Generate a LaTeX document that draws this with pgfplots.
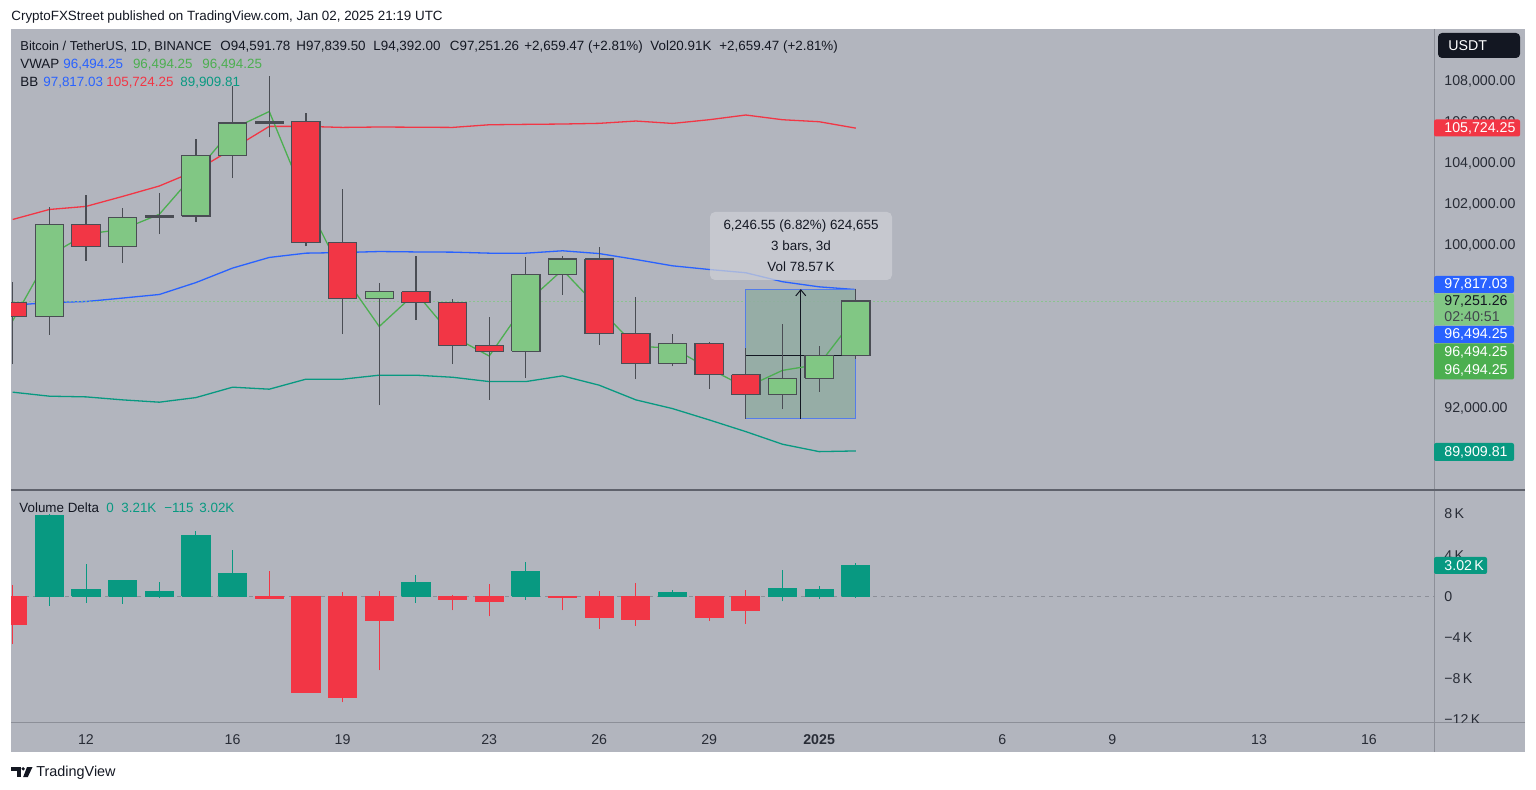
\documentclass[border=0pt]{standalone}
\usepackage{pgfplots}
\pgfplotsset{compat=1.18}
\usepackage{pgfplotstable}
\usepgfplotslibrary{fillbetween}
\usetikzlibrary{arrows.meta}
\usepackage{fontspec}
\setmainfont{Liberation Sans}

\definecolor{bg}{RGB}{178,181,190}
\definecolor{tvtext}{RGB}{19,23,34}
\definecolor{ticktext}{RGB}{40,44,54}
\definecolor{cgreen}{RGB}{129,199,132}
\definecolor{cred}{RGB}{242,54,69}
\definecolor{cborder}{RGB}{74,77,84}
\definecolor{bbblue}{RGB}{41,98,255}
\definecolor{bbred}{RGB}{242,54,69}
\definecolor{bbteal}{RGB}{8,153,129}
\definecolor{vwapgreen}{RGB}{76,175,80}
\definecolor{vdgreen}{RGB}{8,153,129}
\definecolor{vdred}{RGB}{242,54,69}
\definecolor{sep}{RGB}{140,143,152}
\definecolor{sepdark}{RGB}{95,98,108}
\definecolor{tipfill}{RGB}{205,207,213}
\definecolor{boxfill}{RGB}{146,172,162}
\definecolor{boxedge}{RGB}{84,124,232}

\newcommand{\fl}{\fontsize{6.7}{8}\selectfont}
\newcommand{\fsc}{\fontsize{7.1}{8}\selectfont}

% price candles (thousand USDT): #1 = x-1, #2 = x, #3 O, #4 H, #5 L, #6 C ; body half width 0.385 day
\newcommand{\gc}[6]{%
  \addplot[cborder, line width=0.6pt] coordinates {(#2,#5) (#2,#4)};
  \addplot[fill=cgreen, draw=cborder, line width=0.6pt] coordinates {(#1.615,#3) (#2.385,#3) (#2.385,#6) (#1.615,#6) (#1.615,#3)};}
\newcommand{\rc}[6]{%
  \addplot[cborder, line width=0.6pt] coordinates {(#2,#5) (#2,#4)};
  \addplot[fill=cred, draw=cborder, line width=0.6pt] coordinates {(#1.615,#3) (#2.385,#3) (#2.385,#6) (#1.615,#6) (#1.615,#3)};}
% volume delta candles (K): #1 = x-1, #2 = x, #3 close, #4 high, #5 low, #6 colour (open = 0)
\newcommand{\vb}[6]{%
  \addplot[#6, line width=0.5pt] coordinates {(#2,#5) (#2,#4)};
  \addplot[fill=#6, draw=#6, line width=0.5pt] coordinates {(#1.615,0) (#2.385,0) (#2.385,#3) (#1.615,#3) (#1.615,0)};}

% Bollinger bands and VWAP, thousand USDT
\pgfplotstableread{
d upper basis lower vwap
10 101.250 97.050 92.790 96.287
11 101.740 97.180 92.593 99.487
12 101.890 97.230 92.559 100.530
13 102.380 97.400 92.412 100.770
14 102.890 97.575 92.299 101.503
15 103.640 98.160 92.525 103.563
16 104.720 98.870 93.034 105.687
17 105.810 99.390 92.936 106.540
18 105.810 99.600 93.426 102.163
19 105.760 99.630 93.426 98.570
20 105.780 99.680 93.622 96.007
21 105.770 99.660 93.622 97.660
22 105.760 99.650 93.520 95.527
23 105.890 99.600 93.309 94.560
24 105.910 99.600 93.309 97.147
25 105.926 99.716 93.588 98.780
26 105.960 99.580 93.132 96.890
27 106.073 99.290 92.412 95.033
28 105.956 98.980 91.985 94.957
29 106.137 98.800 91.431 93.947
30 106.368 98.640 90.857 93.023
31 106.137 98.200 90.239 93.857
32 106.039 97.950 89.877 94.150
33 105.72425 97.81703 89.90981 96.49425
}\bbtab

\begin{document}
\begin{tikzpicture}
\fill[white] (0,0) rectangle (768pt,-395pt);
\begin{scope}[x=0.5pt,y=-0.5pt]
  \fill[bg] (11,29) rectangle (1525,752);
  \node[anchor=base west, inner sep=0, font=\fl, text=tvtext] at (11,21) {CryptoFXStreet published on TradingView.com, Jan 02, 2025 21:19 UTC};
\end{scope}

% ---------------- price pane ----------------
\begin{axis}[
  at={(5.5pt,-14.5pt)}, anchor=north west,
  scale only axis, width=711.5pt, height=230.5pt,
  xmin=9.954, xmax=48.774, ymin=87.997, ymax=110.582,
  axis line style={draw=none}, major tick length=0pt,
  xtick=\empty,
  ytick={92,100,102,104,106,108},
  yticklabels={{92,000.00},{100,000.00},{102,000.00},{104,000.00},{106,000.00},{108,000.00}},
  yticklabel pos=right,
  yticklabel style={anchor=west, inner sep=0pt, xshift=5pt, font=\fsc, text=ticktext},
  clip=true,
]
\addplot[draw=none, name path=up] table[x=d, y=upper] {\bbtab};
\addplot[draw=none, name path=lo] table[x=d, y=lower] {\bbtab};
\addplot[fill=bbblue, fill opacity=0.06, draw=none] fill between[of=up and lo];
\addplot[bbred, line width=0.65pt] table[x=d, y=upper] {\bbtab};
\addplot[bbblue, line width=0.65pt] table[x=d, y=basis] {\bbtab};
\addplot[bbteal, line width=0.65pt] table[x=d, y=lower] {\bbtab};
% last price line
\addplot[cgreen, line width=0.4pt, dash pattern=on 1pt off 1pt, opacity=0.8] coordinates {(9.9,97.25126) (48.8,97.25126)};
% measurement box
\addplot[fill=boxfill, draw=boxedge, line width=0.5pt, fill opacity=0.85] coordinates {(30,91.48) (33,91.48) (33,97.8395) (30,97.8395) (30,91.48)};
\addplot[tvtext, line width=0.5pt] coordinates {(30,94.592) (33,94.592)};
\addplot[tvtext, line width=0.5pt, -{Straight Barb[length=3pt,width=5pt]}] coordinates {(31.5,91.48) (31.5,97.8395)};
% VWAP
\addplot[vwapgreen, line width=0.65pt] table[x=d, y=vwap] {\bbtab};
% candles: x-1, x, O, H, L, C
\rc{9}{10}{97.18}{98.20}{94.16}{96.50}
\gc{10}{11}{96.50}{101.84}{95.60}{101.02}
\rc{11}{12}{101.02}{102.45}{99.23}{99.91}
\gc{12}{13}{99.91}{101.82}{99.14}{101.35}
\gc{13}{14}{101.35}{102.56}{100.53}{101.42}
\gc{14}{15}{101.42}{105.17}{101.15}{104.37}
\gc{15}{16}{104.37}{107.80}{103.28}{105.98}
\gc{16}{17}{105.98}{108.30}{105.27}{106.05}
\rc{17}{18}{106.05}{106.45}{99.93}{100.11}
\rc{18}{19}{100.11}{102.72}{95.63}{97.36}
\gc{19}{20}{97.36}{98.16}{92.15}{97.71}
\rc{20}{21}{97.71}{99.46}{96.32}{97.20}
\rc{21}{22}{97.20}{97.35}{94.16}{95.07}
\rc{22}{23}{95.07}{96.45}{92.43}{94.80}
\gc{23}{24}{94.80}{99.39}{93.48}{98.57}
\gc{24}{25}{98.57}{99.47}{97.56}{99.31}
\rc{25}{26}{99.31}{99.88}{95.11}{95.68}
\rc{26}{27}{95.68}{97.46}{93.43}{94.21}
\gc{27}{28}{94.21}{95.63}{94.05}{95.19}
\rc{28}{29}{95.19}{95.26}{92.94}{93.64}
\rc{29}{30}{93.64}{94.95}{91.48}{92.69}
\gc{30}{31}{92.69}{96.15}{91.96}{93.46}
\gc{31}{32}{93.46}{95.06}{92.80}{94.59}
\gc{32}{33}{94.59178}{97.8395}{94.392}{97.25126}
\end{axis}

% ---------------- volume delta pane (K) ----------------
\begin{axis}[
  at={(5.5pt,-245.5pt)}, anchor=north west,
  scale only axis, width=711.5pt, height=115.5pt,
  xmin=9.954, xmax=48.774, ymin=-12.194, ymax=10.233,
  axis line style={draw=none}, major tick length=0pt,
  xtick={12,16,19,23,26,29,32,37,40,44,47},
  xticklabels={12,16,19,23,26,29,\textbf{2025},6,9,13,16},
  xticklabel style={anchor=base, inner sep=0pt, yshift=-11pt, font=\fsc, text=ticktext},
  ytick={-8,-4,0,4,8},
  yticklabels={{−8\,K},{−4\,K},{0},{4\,K},{8\,K}},
  yticklabel pos=right,
  yticklabel style={anchor=west, inner sep=0pt, xshift=5pt, font=\fsc, text=ticktext},
  clip=true,
]
\addplot[sep, line width=0.4pt, dash pattern=on 2pt off 2pt] coordinates {(9.9,0) (48.8,0)};
% x-1, x, close, high, low, colour
\vb{9}{10}{-2.70}{1.14}{-4.63}{vdred}
\vb{10}{11}{7.90}{8.00}{-0.90}{vdgreen}
\vb{11}{12}{0.65}{3.15}{-0.64}{vdgreen}
\vb{12}{13}{1.54}{1.54}{-0.70}{vdgreen}
\vb{13}{14}{0.51}{1.38}{-0.13}{vdgreen}
\vb{14}{15}{5.91}{6.33}{0}{vdgreen}
\vb{15}{16}{2.22}{4.53}{0}{vdgreen}
\vb{16}{17}{-0.16}{2.44}{-0.16}{vdred}
\vb{17}{18}{-9.29}{0}{-9.29}{vdred}
\vb{18}{19}{-9.86}{0.45}{-10.28}{vdred}
\vb{19}{20}{-2.35}{0.51}{-7.17}{vdred}
\vb{20}{21}{1.38}{2.12}{-0.64}{vdgreen}
\vb{21}{22}{-0.32}{0.10}{-1.35}{vdred}
\vb{22}{23}{-0.54}{1.22}{-1.93}{vdred}
\vb{23}{24}{2.45}{3.31}{-0.32}{vdgreen}
\vb{24}{25}{-0.06}{0.08}{-1.35}{vdred}
\vb{25}{26}{-2.03}{0.51}{-3.12}{vdred}
\vb{26}{27}{-2.22}{1.32}{-2.86}{vdred}
\vb{27}{28}{0.39}{0.58}{0}{vdgreen}
\vb{28}{29}{-2.03}{0.08}{-2.41}{vdred}
\vb{29}{30}{-1.35}{0.61}{-2.64}{vdred}
\vb{30}{31}{0.74}{2.54}{-0.48}{vdgreen}
\vb{31}{32}{0.65}{0.99}{-0.22}{vdgreen}
\vb{32}{33}{3.02}{3.21}{-0.115}{vdgreen}
\end{axis}

% ---------------- overlays ----------------
\begin{scope}[x=0.5pt,y=-0.5pt]
  \draw[sep, line width=0.5pt] (1434,29) -- (1434,752);
  \draw[sepdark, line width=1pt] (11,490.5) -- (1525,490.5);
  \draw[sep, line width=0.5pt] (11,722) -- (1525,722);
  \begin{scope}
    \clip (1435,491) rectangle (1525,722);
    \node[anchor=west, inner sep=0, font=\fsc, text=ticktext] at (1444,720) {−12\,K};
  \end{scope}
  \node[anchor=base west, inner sep=0, font=\fontsize{6.45}{8}\selectfont, text=tvtext] at (20,51) {Bitcoin / TetherUS, 1D, BINANCE};
  \node[anchor=base west, inner sep=0, font=\fl, text=tvtext] at (220,51) {O94,591.78};
  \node[anchor=base west, inner sep=0, font=\fl, text=tvtext] at (296,51) {H97,839.50};
  \node[anchor=base west, inner sep=0, font=\fl, text=tvtext] at (373,51) {L94,392.00};
  \node[anchor=base west, inner sep=0, font=\fl, text=tvtext] at (449.5,51) {C97,251.26};
  \node[anchor=base west, inner sep=0, font=\fl, text=tvtext] at (524,51) {+2,659.47 (+2.81\%)};
  \node[anchor=base west, inner sep=0, font=\fl, text=tvtext] at (650,51) {Vol20.91K};
  \node[anchor=base west, inner sep=0, font=\fl, text=tvtext] at (719,51) {+2,659.47 (+2.81\%)};
  \node[anchor=base west, inner sep=0, font=\fl, text=tvtext] at (20,69) {VWAP};
  \node[anchor=base west, inner sep=0, font=\fl, text=bbblue] at (63,69) {96,494.25};
  \node[anchor=base west, inner sep=0, font=\fl, text=vwapgreen] at (132.6,69) {96,494.25};
  \node[anchor=base west, inner sep=0, font=\fl, text=vwapgreen] at (202,69) {96,494.25};
  \node[anchor=base west, inner sep=0, font=\fl, text=tvtext] at (20,87) {BB};
  \node[anchor=base west, inner sep=0, font=\fl, text=bbblue] at (43,87) {97,817.03};
  \node[anchor=base west, inner sep=0, font=\fl, text=bbred] at (106,87) {105,724.25};
  \node[anchor=base west, inner sep=0, font=\fl, text=bbteal] at (180,87) {89,909.81};
  \node[anchor=base west, inner sep=0, font=\fl, text=tvtext] at (19,512.5) {Volume Delta};
  \node[anchor=base west, inner sep=0, font=\fl, text=vdgreen] at (106,512.5) {0};
  \node[anchor=base west, inner sep=0, font=\fl, text=vdgreen] at (121,512.5) {3.21K};
  \node[anchor=base west, inner sep=0, font=\fl, text=vdgreen] at (164,512.5) {−115};
  \node[anchor=base west, inner sep=0, font=\fl, text=vdgreen] at (199,512.5) {3.02K};
  \fill[tipfill, fill opacity=0.75, rounded corners=2.5pt] (710,212) rectangle (892,280);
  \node[anchor=base, inner sep=0, font=\fl, text=tvtext] at (801,230) {6,246.55 (6.82\%) 624,655};
  \node[anchor=base, inner sep=0, font=\fl, text=tvtext] at (801,251) {3 bars, 3d};
  \node[anchor=base, inner sep=0, font=\fl, text=tvtext] at (801,272) {Vol 78.57\,K};
  \fill[tvtext, rounded corners=2pt] (1438,33) rectangle (1520,58);
  \node[anchor=west, inner sep=0, font=\fsc, text=white] at (1448,46) {USDT};
  \fill[bbred, rounded corners=1pt] (1434,119.5) rectangle (1520,136.5);
  \node[anchor=west, inner sep=0, font=\fsc, text=white] at (1444,128) {105,724.25};
  \fill[bbblue, rounded corners=1pt] (1434,276) rectangle (1514,293);
  \node[anchor=west, inner sep=0, font=\fsc, text=white] at (1444,284.5) {97,817.03};
  \fill[cgreen, rounded corners=1pt] (1434,293.5) rectangle (1514,325.5);
  \node[anchor=west, inner sep=0, font=\fsc, text=tvtext] at (1444,301.5) {97,251.26};
  \node[anchor=west, inner sep=0, font=\fsc, text=tvtext!80] at (1444,316.5) {02:40:51};
  \fill[bbblue, rounded corners=1pt] (1434,326) rectangle (1514,343);
  \node[anchor=west, inner sep=0, font=\fsc, text=white] at (1444,334.5) {96,494.25};
  \fill[vwapgreen, rounded corners=1pt] (1434,343.5) rectangle (1514,379.5);
  \node[anchor=west, inner sep=0, font=\fsc, text=white] at (1444,352.5) {96,494.25};
  \node[anchor=west, inner sep=0, font=\fsc, text=white] at (1444,370.5) {96,494.25};
  \fill[bbteal, rounded corners=1pt] (1434,443) rectangle (1514,461);
  \node[anchor=west, inner sep=0, font=\fsc, text=white] at (1444,452) {89,909.81};
  \fill[vdgreen, rounded corners=1pt] (1434,557) rectangle (1487,574);
  \node[anchor=west, inner sep=0, font=\fsc, text=white] at (1444,565.5) {3.02\,K};
  \fill[tvtext] (11,767) rectangle (20.5,770.5);
  \fill[tvtext] (16.5,767) rectangle (20.5,777);
  \fill[tvtext] (23.2,768.8) circle (1.8);
  \fill[tvtext] (27,767) -- (32.5,767) -- (27.8,777) -- (23.2,777) -- cycle;
  \node[anchor=base west, inner sep=0, font=\fontsize{7.2}{8}\selectfont, text=tvtext] at (36,776.5) {TradingView};
\end{scope}
\pgfresetboundingbox
\path (0,0) rectangle (768pt,-395pt);
\end{tikzpicture}
\end{document}
